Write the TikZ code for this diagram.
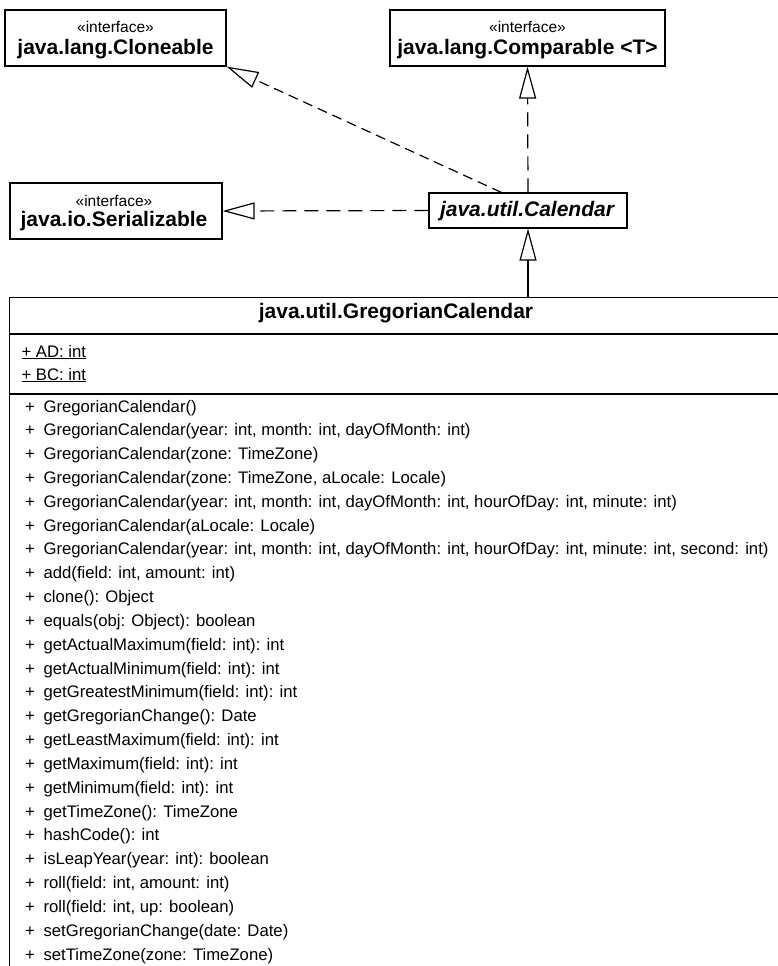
\documentclass[tikz,border=0pt]{standalone}
\usepackage{fontspec}
\setmainfont{Liberation Sans}
\usetikzlibrary{arrows.meta,calc}
\begin{document}
\begin{tikzpicture}[x=1pt,y=-1pt,line width=1.2pt,
  box/.style={draw, rectangle, inner sep=0pt, line width=1.2pt},
  txt/.style={inner sep=0pt, anchor=base},
  iface/.style={txt, font=\fontsize{15.5}{18}\selectfont},
  cname/.style={txt, font=\fontsize{21}{24}\selectfont\bfseries},
  member/.style={inner sep=0pt, anchor=base west, font=\fontsize{16.7}{20}\selectfont},
  realize/.style={dash pattern=on 14pt off 8pt, -{Triangle[open,length=32pt,width=17pt]}},
  extend/.style={-{Triangle[open,length=32pt,width=17pt]}}]
\fill[white] (0,0) rectangle (778,966);
\useasboundingbox (0,0) rectangle (778,966);

% interface boxes
\node[box, minimum width=221pt, minimum height=56pt] (clone) at (115.5,38) {};
\node[iface] (cloneS) at (115.5,33) {«interface»};
\node[cname] (cloneN) at (115.5,55) {java.lang.Cloneable};

\node[box, minimum width=275pt, minimum height=56pt] (comp) at (527.5,38) {};
\node[iface] (compS) at (527.5,33) {«interface»};
\node[cname] (compN) at (527.5,55) {java.lang.Comparable <T>};

\node[box, minimum width=212pt, minimum height=56pt] (ser) at (116,211) {};
\node[iface] (serS) at (114,206) {«interface»};
\node[cname] (serN) at (114,226) {java.io.Serializable};

% abstract class
\node[box, minimum width=198pt, minimum height=35pt] (cal) at (528,210.5) {};
\node[txt, font=\fontsize{21}{24}\selectfont\bfseries\itshape] (calN) at (527,216) {java.util.Calendar};

% GregorianCalendar
\node[box, minimum width=773pt, minimum height=700pt, anchor=north west] (greg) at (9,297) {};
\draw ($(greg.north west)+(0,37)$) -- ($(greg.north east)+(0,37)$);
\draw ($(greg.north west)+(0,97)$) -- ($(greg.north east)+(0,97)$);
\node[cname] (gregN) at (396,318) {java.util.GregorianCalendar};
\node[member] (attAD) at (21,357) {\underline{+ AD: int}};
\node[member] (attBC) at (21,380) {\underline{+ BC: int}};

\foreach \m [count=\i] in {
  {GregorianCalendar()},
  {GregorianCalendar(year: int, month: int, dayOfMonth: int)},
  {GregorianCalendar(zone: TimeZone)},
  {GregorianCalendar(zone: TimeZone, aLocale: Locale)},
  {GregorianCalendar(year: int, month: int, dayOfMonth: int, hourOfDay: int, minute: int)},
  {GregorianCalendar(aLocale: Locale)},
  {GregorianCalendar(year: int, month: int, dayOfMonth: int, hourOfDay: int, minute: int, second: int)},
  {add(field: int, amount: int)},
  {clone(): Object},
  {equals(obj: Object): boolean},
  {getActualMaximum(field: int): int},
  {getActualMinimum(field: int): int},
  {getGreatestMinimum(field: int): int},
  {getGregorianChange(): Date},
  {getLeastMaximum(field: int): int},
  {getMaximum(field: int): int},
  {getMinimum(field: int): int},
  {getTimeZone(): TimeZone},
  {hashCode(): int},
  {isLeapYear(year: int): boolean},
  {roll(field: int, amount: int)},
  {roll(field: int, up: boolean)},
  {setGregorianChange(date: Date)},
  {setTimeZone(zone: TimeZone)}}
{
  \node[member, name=m\i] at (24.5,{412+23.83*(\i-1)}) {\makebox[18.5pt][l]{+}\m};
}

% connectors
\coordinate (calTop) at ($(cal.north west)+(73,0)$);
\draw[realize, dash pattern=on 10pt off 6pt] (calTop) -- (clone.south east);
\draw[realize] (cal.north) -- (comp.south);
\draw[realize] (cal.west) -- (ser.east);
\draw[extend] (cal.south |- greg.north) -- (cal.south);
\end{tikzpicture}
\end{document}
